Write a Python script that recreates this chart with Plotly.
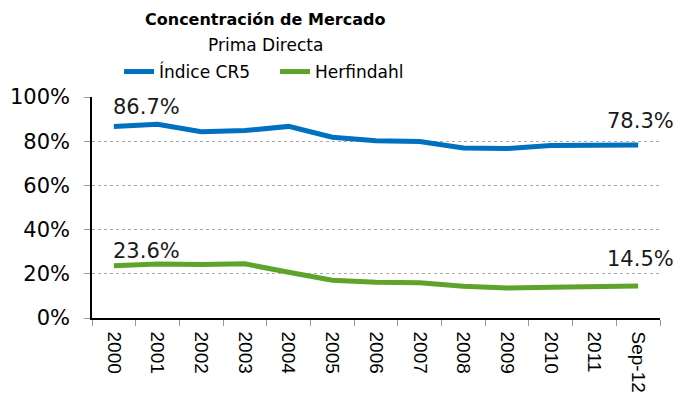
import plotly.graph_objects as go

categories = ["2000", "2001", "2002", "2003", "2004", "2005", "2006",
              "2007", "2008", "2009", "2010", "2011", "Sep-12"]
cr5 = [86.7, 87.7, 84.3, 84.8, 86.7, 81.8, 80.2, 79.9, 76.9, 76.7, 78.0, 78.3, 78.3]
herf = [23.6, 24.4, 24.2, 24.5, 20.7, 17.1, 16.2, 15.9, 14.4, 13.6, 13.9, 14.4, 14.5]
y_ticks = [0, 20, 40, 60, 80, 100]
y_ticklabels = ["0%", "20%", "40%", "60%", "80%", "100%"]

BLUE = "#0070C0"
GREEN = "#5EA32A"
FONT = "DejaVu Sans"
LABEL_FONT = dict(family=FONT, size=21, color="#1a1a1a")

fig = go.Figure()
fig.add_trace(go.Scatter(x=categories, y=cr5, mode="lines", name="Índice CR5",
                         line=dict(color=BLUE, width=5)))
fig.add_trace(go.Scatter(x=categories, y=herf, mode="lines", name="Herfindahl",
                         line=dict(color=GREEN, width=5)))

# end-point labels (category index positions)
first, last = 0, len(categories) - 1
for series, ys_left, ys_right in ((cr5, 5, 10), (herf, 1, 13)):
    fig.add_annotation(x=first, y=series[first], text=f"{series[first]:.1f}%",
                       showarrow=False, yanchor="bottom", xanchor="left",
                       xshift=-3, yshift=ys_left, font=LABEL_FONT)
    fig.add_annotation(x=last, y=series[last], text=f"{series[last]:.1f}%",
                       showarrow=False, yanchor="bottom", xanchor="right",
                       xshift=38, yshift=ys_right, font=LABEL_FONT)

# title & subtitle (paper coords relative to the plot area)
CX = (265 - 92) / 568
fig.add_annotation(xref="paper", yref="paper", x=CX, y=(318 - 20) / 221,
                   text="<b>Concentración de Mercado</b>", showarrow=False,
                   xanchor="center", yanchor="middle",
                   font=dict(family=FONT, size=16, color="black"))
fig.add_annotation(xref="paper", yref="paper", x=CX, y=(318 - 45) / 221,
                   text="Prima Directa", showarrow=False,
                   xanchor="center", yanchor="middle",
                   font=dict(family=FONT, size=17, color="black"))

fig.update_layout(
    width=673, height=399,
    margin=dict(l=84, r=21, t=89, b=89, autoexpand=False),
    paper_bgcolor="white", plot_bgcolor="white",
    legend=dict(orientation="h", x=(275 - 92) / 568, xanchor="center",
                y=(318 - 72) / 221, yanchor="middle",
                font=dict(family=FONT, size=17, color="black"),
                traceorder="normal", entrywidth=111),
    showlegend=True,
)
fig.update_xaxes(type="category", range=[-0.5, len(categories) - 0.5], automargin=False,
                 showline=True, linecolor="black", linewidth=1.5,
                 ticks="outside", tickson="boundaries", ticklen=6, tickcolor="#999999",
                 tickangle=90, showgrid=False, ticklabelstandoff=8,
                 tickfont=dict(family="Liberation Sans", size=19, color="black"))
fig.update_yaxes(range=[0, 100], tickvals=y_ticks, ticktext=y_ticklabels, automargin=False,
                 showline=True, linecolor="black", linewidth=1.5,
                 ticks="outside", ticklen=6, tickcolor="#999999",
                 showgrid=True, gridcolor="#AAAAAA", griddash="dot", gridwidth=1,
                 zeroline=False, ticklabelstandoff=10,
                 tickfont=dict(family=FONT, size=21, color="black"))

fig.write_html("out.html")
